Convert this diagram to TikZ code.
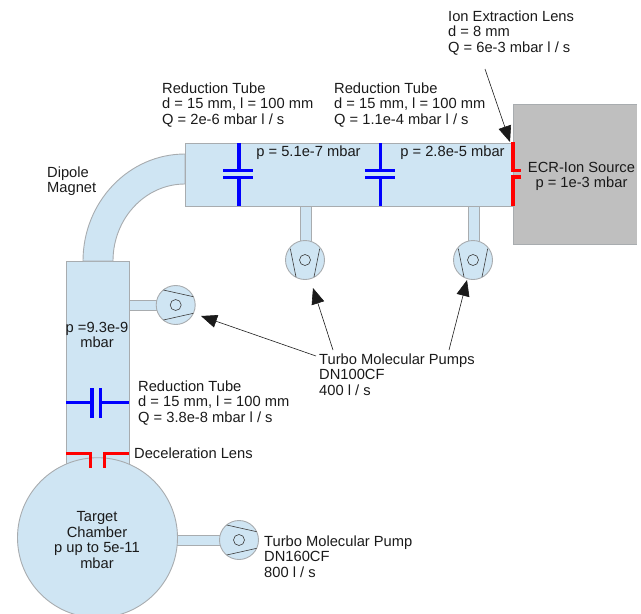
\documentclass[tikz,border=0pt]{standalone}
\usepackage{fontspec}
\setmainfont{Liberation Sans}
\usetikzlibrary{arrows.meta}
\definecolor{vac}{HTML}{CFE5F3}
\definecolor{edge}{HTML}{A8ACAF}
\definecolor{src}{HTML}{BFBFBF}
\definecolor{ink}{HTML}{1A1A1A}
\tikzset{
  vessel/.style={draw=edge,fill=vac,line width=0.9pt},
  source/.style={draw=edge,fill=src,line width=0.9pt},
  pumpbody/.style={circle,draw=edge,fill=vac,line width=0.9pt,minimum size=39pt,inner sep=0pt},
  blade/.style={draw=ink!85,line width=0.6pt},
  rotor/.style={draw=ink!85,line width=0.6pt,fill=none},
  valve/.style={draw=blue,line width=3.2pt},
  lens/.style={draw=red,line width=3.2pt},
  lbl/.style={text=ink,inner sep=0pt,yshift=-1pt,font=\fontsize{14.7}{15.6}\selectfont,align=left,anchor=west},
  lblc/.style={text=ink,inner sep=0pt,yshift=-1pt,font=\fontsize{14.7}{15.6}\selectfont,align=center},
  callout/.style={draw=ink,line width=0.6pt,-{Triangle[length=16pt,width=13pt]}},
  pumpv/.pic={
    \path[blade] (-14.7,-11.3) -- (-9,17) (14.7,-11.3) -- (9,17);
    \path[rotor] (0,0) circle (5.5);
  },
  pumph/.pic={
    \path[blade] (-12.3,-15) -- (17.7,-8.3) (-12.3,15) -- (17.7,8.3);
    \path[rotor] (0,0) circle (5.5);
  }
}
\begin{document}
\begin{tikzpicture}[x=1pt,y=-1pt]
\useasboundingbox (0,0) rectangle (641,614);
\clip (0,0) rectangle (641,614);

% stems
\draw[vessel] (300,206) rectangle (311,245);
\draw[vessel] (468,206) rectangle (479,245);
\draw[vessel] (125,300) rectangle (160,310);
\draw[vessel] (170,535) rectangle (224,545);

% lower tube
\draw[vessel] (66,261) rectangle (129,480);

% dipole magnet
\draw[vessel] (83,261) arc[start angle=180,end angle=270,x radius=102,y radius=107]
  -- (185,184) arc[start angle=270,end angle=180,x radius=72,y radius=77] -- cycle;

% main tube and source
\draw[vessel] (185,143) rectangle (513,206);
\fill[src] (513.4,104.4) rectangle (637,243.6);
\draw[source,fill=none] (637,104) -- (513,104) -- (513,244) -- (637,244);

% chamber
\node[circle,draw=edge,fill=vac,line width=0.9pt,minimum size=160pt,inner sep=0pt] (chamber) at (97.5,537.7) {};

% pumps
\node[pumpbody] (p1) at (305,260) {};
\node[pumpbody] (p2) at (473,260) {};
\node[pumpbody] (p3) at (175.7,305) {};
\node[pumpbody] (p4) at (239,540) {};
\pic at (p1) {pumpv};
\pic at (p2) {pumpv};
\pic at (p3) {pumph};
\pic at (p4) {pumph};

% reduction tubes
\draw[valve] (239,143) -- (239,170.5) (223,170.5) -- (253,170.5)
             (223,177.5) -- (253,177.5) (239,177.5) -- (239,206);
\draw[valve] (380.5,143) -- (380.5,170.5) (365,170.5) -- (395,170.5)
             (365,177.5) -- (395,177.5) (380.5,177.5) -- (380.5,206);
\draw[valve] (66,402.5) -- (92,402.5) (92,388) -- (92,418)
             (100.5,388) -- (100.5,418) (100.5,402.5) -- (129,402.5);

% lenses
\draw[lens] (513,142) -- (513,170.5) -- (521,170.5);
\draw[lens] (521,177) -- (513,177) -- (513,205.5);
\draw[lens] (66,453.7) -- (90.7,453.7) -- (90.7,468);
\draw[lens] (129,453.7) -- (104.7,453.7) -- (104.7,468);

% labels
\node[lbl] (ion) at (448,32) {Ion Extraction Lens\\d = 8 mm\\Q = 6e-3 mbar l / s};
\node[lbl] (r1) at (162,104) {Reduction Tube\\d = 15 mm, l = 100 mm\\Q = 2e-6 mbar l / s};
\node[lbl] (r2) at (334,104) {Reduction Tube\\d = 15 mm, l = 100 mm\\Q = 1.1e-4 mbar l / s};
\node[lbl] (r3) at (138,402) {Reduction Tube\\d = 15 mm, l = 100 mm\\Q = 3.8e-8 mbar l / s};
\node[lblc] (pa) at (308.5,151.5) {p = 5.1e-7 mbar};
\node[lblc] (pb) at (452.5,151.5) {p = 2.8e-5 mbar};
\node[lblc] (ecr) at (581.5,175.5) {ECR-Ion Source\\p = 1e-3 mbar};
\node[lbl] (dip) at (47,180) {Dipole\\Magnet};
\node[lblc] (pc) at (97,334) {p =9.3e-9\\mbar};
\node[lbl] (dec) at (134,452) {Deceleration Lens};
\node[lblc] (tc) at (97,539) {Target\\Chamber\\p up to 5e-11\\mbar};
\node[lbl] (tp1) at (264,555.5) {Turbo Molecular Pump\\DN160CF\\800 l / s};
\node[lbl] (tp) at (319,373.5) {Turbo Molecular Pumps\\DN100CF\\400 l / s};

% callouts
\coordinate (ionS) at (485,69);
\coordinate (ionT) at (510,142);
\coordinate (t1) at (313,288);
\coordinate (t2) at (467,280);
\coordinate (t3) at (201,316);
\coordinate (s1) at (333,350);
\coordinate (s2) at (449,350);
\coordinate (s3) at (316,356);
\draw[callout] (ionS) -- (ionT);
\draw[callout] (s1) -- (t1);
\draw[callout] (s2) -- (t2);
\draw[callout] (s3) -- (t3);
\end{tikzpicture}
\end{document}
